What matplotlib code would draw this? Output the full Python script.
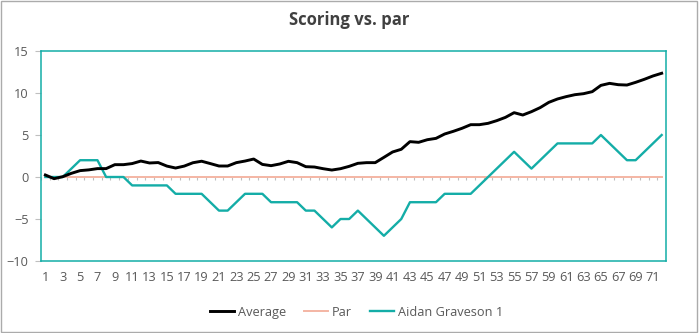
import matplotlib.pyplot as plt
import numpy as np
from matplotlib.patches import Rectangle

plt.rcParams['font.family'] = ['Open Sans', 'DejaVu Sans']

holes = np.arange(1, 73)

average = [0.24, -0.2, 0.04, 0.44, 0.76, 0.85, 1.0, 1.0, 1.47, 1.47,
           1.6, 1.9, 1.67, 1.72, 1.3, 1.07, 1.3, 1.7, 1.88, 1.6,
           1.31, 1.31, 1.71, 1.9, 2.14, 1.5, 1.35, 1.55, 1.87, 1.71,
           1.23, 1.19, 0.99, 0.83, 0.99, 1.27, 1.63, 1.71, 1.71, 2.34,
           2.98, 3.3, 4.21, 4.13, 4.44, 4.6, 5.12, 5.44, 5.8, 6.23,
           6.23, 6.39, 6.71, 7.1, 7.66, 7.38, 7.78, 8.26, 8.89, 9.29,
           9.57, 9.8, 9.92, 10.16, 10.91, 11.15, 10.99, 10.95, 11.27, 11.63,
           12.03, 12.35]
par = [0] * 72
aidan = [0, 0, 0, 1, 2, 2, 2, 0, 0, 0,
         -1, -1, -1, -1, -1, -2, -2, -2, -2, -3,
         -4, -4, -3, -2, -2, -2, -3, -3, -3, -3,
         -4, -4, -5, -6, -5, -5, -4, -5, -6, -7,
         -6, -5, -3, -3, -3, -3, -2, -2, -2, -2,
         -1, 0, 1, 2, 3, 2, 1, 2, 3, 4,
         4, 4, 4, 4, 5, 4, 3, 2, 2, 3,
         4, 5]

teal = '#14ADA7'
grey_text = '#595959'
tick_grey = '#BFBFBF'

fig = plt.figure(figsize=(6.99, 3.33), dpi=100)
ax = fig.add_axes([0.0587, 0.2162, 0.8941, 0.6306])

ax.plot(holes, par, color='#F4B6A4', lw=1.4, label='Par', zorder=2)
ax.vlines(np.arange(0.5, 73), -0.4, 0, color=tick_grey, lw=0.8, zorder=1)
ax.plot(holes, average, color='black', lw=2.1, label='Average', zorder=4)
ax.plot(holes, aidan, color=teal, lw=1.7, label='Aidan Graveson 1', zorder=3)

ax.set_xlim(0.5, 72.5)
ax.set_ylim(-10, 15)
ax.set_yticks([-10, -5, 0, 5, 10, 15])
ax.set_xticks(holes[::2])
ax.set_xticklabels([str(h) for h in holes[::2]])
ax.tick_params(axis='x', length=0, pad=7, labelsize=9.2, labelcolor=grey_text)
ax.tick_params(axis='y', length=4, width=0.8, color=tick_grey, pad=5,
               labelsize=9.2, labelcolor=grey_text)
for s in ax.spines.values():
    s.set_color(teal)
    s.set_linewidth(1.1)

fig.text(0.5, 0.94, 'Scoring vs. par', ha='center', va='center',
         fontsize=12, fontweight='bold', color='#404040')

handles, labels = ax.get_legend_handles_labels()
order = [1, 0, 2]
fig.legend([handles[i] for i in order], [labels[i] for i in order],
           loc='center', bbox_to_anchor=(0.51, 0.063),
           ncol=3, frameon=False, fontsize=9.2, handlelength=1.9,
           handletextpad=0.3, columnspacing=1.4, labelcolor=grey_text)

fig.patches.append(Rectangle((0.001, 0.004), 0.996, 0.994, transform=fig.transFigure,
                             fill=False, edgecolor='#ABABAB', lw=1.0))

fig.savefig('out.png', dpi=100)
